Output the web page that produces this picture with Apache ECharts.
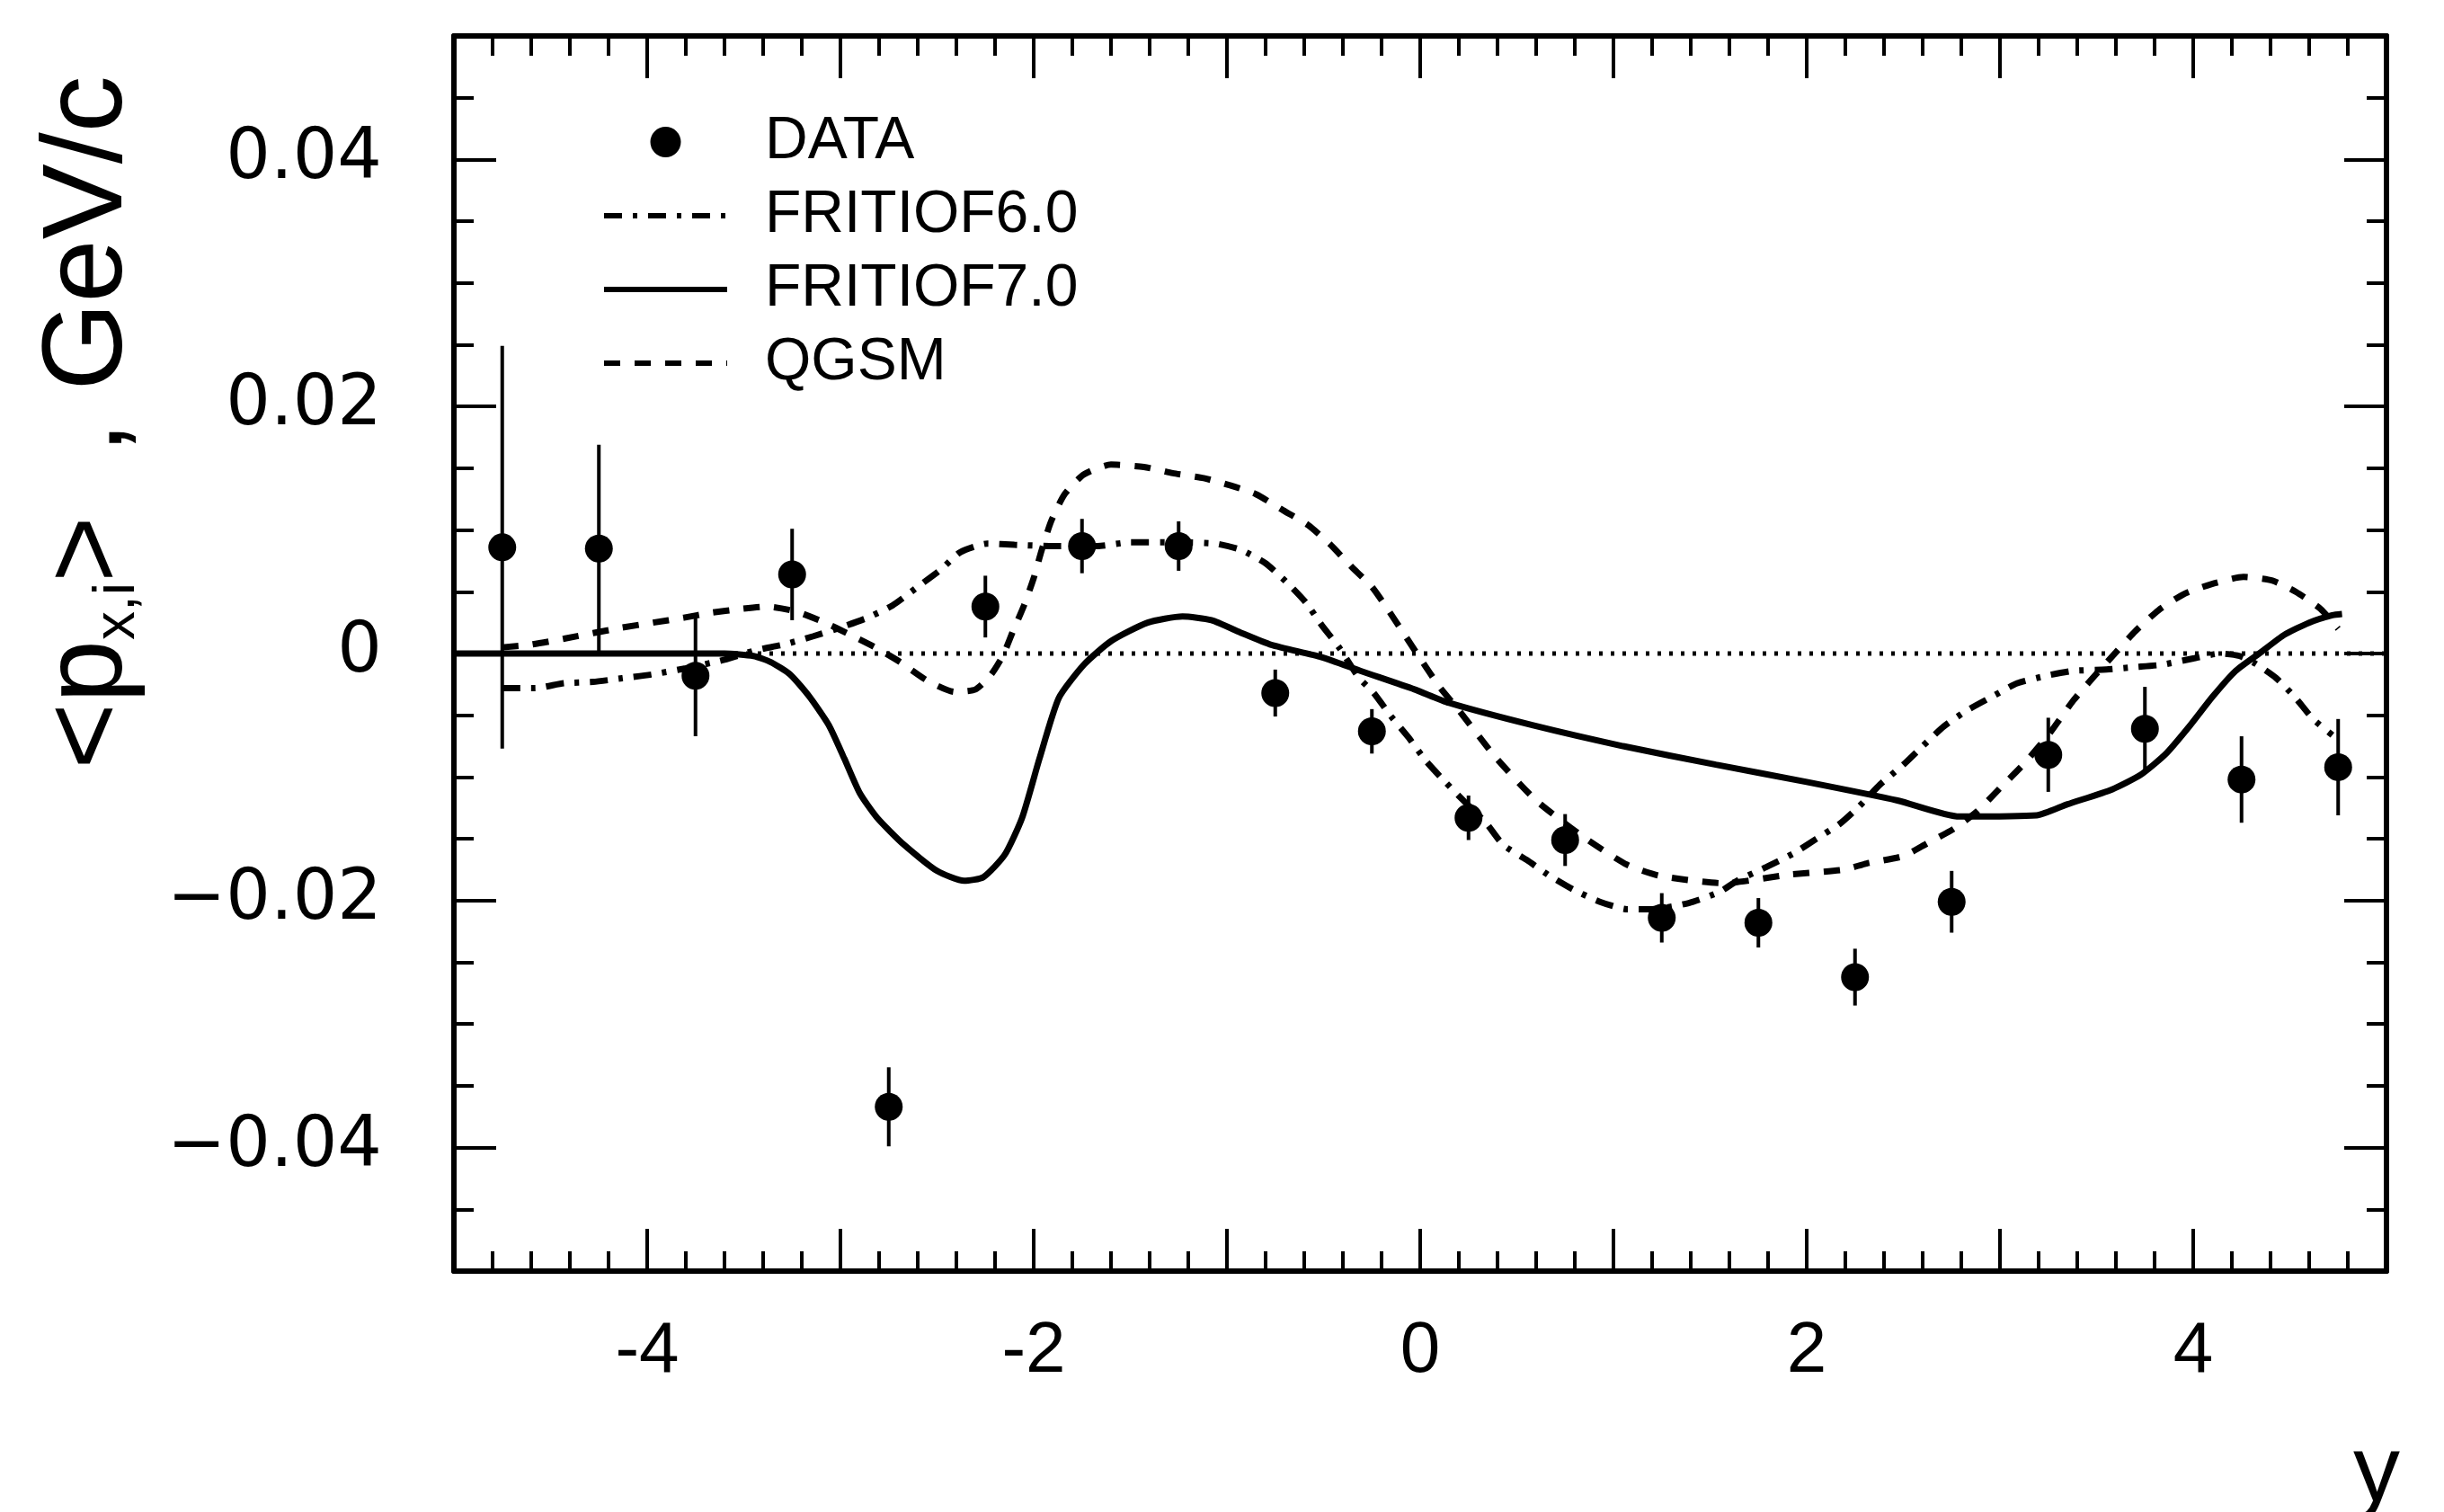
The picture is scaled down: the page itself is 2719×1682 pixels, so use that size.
<!DOCTYPE html>
<html>
<head>
<meta charset="utf-8">
<title>px,i vs y</title>
<script src="https://cdn.jsdelivr.net/npm/echarts@6.0.0/dist/echarts.min.js"></script>
<style>
  html, body { margin: 0; padding: 0; background: #fff; }
  #chart { width: 2719px; height: 1682px; }
</style>
</head>
<body>
<div id="chart"></div>
<script>
// measured points (rapidity y, <p_x,i> in GeV/c, error)
const dataX = [-4.75, -4.25, -3.75, -3.25, -2.75, -2.25, -1.75, -1.25, -0.75, -0.25,
  0.25, 0.75, 1.25, 1.75, 2.25, 2.75, 3.25, 3.75, 4.25, 4.75]
const dataY = [0.0086, 0.0085, -0.0018, 0.0064, -0.0367, 0.0038, 0.0087, 0.0087, -0.0032, -0.0063,
  -0.0133, -0.0151, -0.0214, -0.0218, -0.0262, -0.0201, -0.0082, -0.0061, -0.0102, -0.0092]
const dataErr = [0.0163, 0.0084, 0.0049, 0.0037, 0.0032, 0.0025, 0.0022, 0.002, 0.0019, 0.0018,
  0.0018, 0.0021, 0.002, 0.002, 0.0023, 0.0025, 0.003, 0.0034, 0.0035, 0.0039]

// model curves, [y, <p_x,i>]
const fritiof6 = [
  [-4.75, -0.0028], [-4.58, -0.0028], [-4.43, -0.0024], [-4.28, -0.0023], [-4.13, -0.002],
  [-3.98, -0.0017], [-3.8, -0.0012], [-3.6, -0.0005], [-3.43, 0.0003], [-3.3, 0.0007],
  [-3.14, 0.0014], [-3.0, 0.0021], [-2.86, 0.0029], [-2.73, 0.0039], [-2.6, 0.0054],
  [-2.48, 0.0068], [-2.38, 0.0082], [-2.24, 0.0089], [-2.1, 0.0088], [-1.9, 0.0087],
  [-1.67, 0.0087], [-1.5, 0.009], [-1.25, 0.009], [-1.06, 0.0089], [-0.93, 0.0084],
  [-0.8, 0.0073], [-0.68, 0.0056], [-0.59, 0.0041], [-0.51, 0.0023], [-0.42, 0.0005],
  [-0.32, -0.0019], [-0.24, -0.0032], [-0.15, -0.0051], [-0.06, -0.0068], [0.03, -0.0087],
  [0.13, -0.0104], [0.23, -0.012], [0.34, -0.0137], [0.43, -0.0155], [0.55, -0.0167],
  [0.67, -0.018], [0.79, -0.0191], [0.93, -0.0201], [1.07, -0.0207], [1.2, -0.0207],
  [1.39, -0.0202], [1.55, -0.0193], [1.64, -0.0184], [1.79, -0.0173], [1.93, -0.0162],
  [2.05, -0.015], [2.17, -0.0138], [2.27, -0.0124], [2.38, -0.0106], [2.5, -0.009],
  [2.6, -0.0075], [2.71, -0.0059], [2.83, -0.0046], [2.97, -0.0034], [3.09, -0.0024],
  [3.24, -0.0018], [3.38, -0.0014], [3.55, -0.0013], [3.7, -0.0011], [3.84, -0.0009],
  [4.0, -0.0004], [4.14, 0.0], [4.24, -0.0002], [4.32, -0.0008], [4.43, -0.002],
  [4.53, -0.0036], [4.62, -0.0053], [4.72, -0.0066]
]
const fritiof7 = [
  [-5, 0], [-4.5, 0], [-4, 0], [-3.6, 0], [-3.45, -0.0002], [-3.36, -0.0007], [-3.26, -0.0017],
  [-3.16, -0.0035], [-3.06, -0.0058], [-2.98, -0.0085], [-2.9, -0.0113], [-2.81, -0.0133],
  [-2.67, -0.0155], [-2.5, -0.0176], [-2.36, -0.0184], [-2.26, -0.0181], [-2.15, -0.0163],
  [-2.06, -0.0133], [-1.97, -0.0085], [-1.87, -0.0036], [-1.74, -0.0009], [-1.6, 0.001],
  [-1.41, 0.0025], [-1.23, 0.003], [-1.08, 0.0027], [-0.93, 0.0017], [-0.77, 0.0007],
  [-0.51, -0.0003], [-0.31, -0.0014], [-0.03, -0.0029], [0.15, -0.004], [0.58, -0.0058],
  [1.05, -0.0075], [1.53, -0.009], [2.0, -0.0104], [2.47, -0.0119], [2.79, -0.0132],
  [3.19, -0.0131], [3.35, -0.0122], [3.58, -0.011], [3.73, -0.0098], [3.86, -0.0081],
  [3.98, -0.0059], [4.1, -0.0035], [4.22, -0.0014], [4.35, 0.0001], [4.47, 0.0015],
  [4.6, 0.0025], [4.72, 0.0031], [4.77, 0.0032]
]
const qgsm = [
  [-4.75, 0.0005], [-4.61, 0.0007], [-4.43, 0.0012], [-4.13, 0.0021], [-3.97, 0.0025],
  [-3.81, 0.0029], [-3.67, 0.0033], [-3.52, 0.0036], [-3.38, 0.0038], [-3.23, 0.0034],
  [-3.08, 0.0025], [-2.96, 0.0016], [-2.82, 0.0005], [-2.69, -0.0007], [-2.55, -0.0022],
  [-2.41, -0.0031], [-2.3, -0.0029], [-2.22, -0.0017], [-2.16, -0.0002], [-2.11, 0.0017],
  [-2.05, 0.0039], [-2.0, 0.0061], [-1.96, 0.0083], [-1.91, 0.0107], [-1.84, 0.0129],
  [-1.74, 0.0145], [-1.6, 0.0153], [-1.43, 0.0151], [-1.28, 0.0146], [-1.12, 0.0142],
  [-0.98, 0.0136], [-0.85, 0.0129], [-0.71, 0.0116], [-0.58, 0.0104], [-0.47, 0.0089],
  [-0.36, 0.0071], [-0.25, 0.0054], [-0.16, 0.0034], [-0.08, 0.0015], [0.0, -0.0004],
  [0.1, -0.0027], [0.2, -0.0046], [0.39, -0.0084], [0.6, -0.0119], [0.84, -0.0148],
  [1.07, -0.0171], [1.24, -0.018], [1.57, -0.0186], [1.91, -0.0179], [2.19, -0.0175],
  [2.31, -0.017], [2.5, -0.0164], [2.62, -0.0154], [2.76, -0.0142], [2.88, -0.0128],
  [3.0, -0.0109], [3.12, -0.009], [3.25, -0.0066], [3.38, -0.0038], [3.49, -0.0018],
  [3.6, 0.0001], [3.7, 0.0018], [3.82, 0.0035], [3.95, 0.0048], [4.09, 0.0056],
  [4.26, 0.0062], [4.41, 0.0059], [4.53, 0.005], [4.66, 0.0036], [4.75, 0.002]
]
const zeroLine = [[-5, 0], [5, 0]]

// tick labels
const xLabels = [-4, -2, 0, 2, 4]
const yLabels = [-0.04, -0.02, 0, 0.02, 0.04]

const SANS = '"Liberation Sans", Arial, sans-serif'

const chart = echarts.init(document.getElementById('chart'))

const axisLine = { show: true, onZero: false, lineStyle: { color: '#000', width: 6 } }
const tickStyle = { color: '#000', width: 4 }

function xAxisCfg(position, showLabel) {
  return {
    type: 'value',
    position: position,
    min: -5,
    max: 5,
    interval: 1,
    axisLine: axisLine,
    axisTick: { inside: true, length: 47, lineStyle: tickStyle },
    minorTick: { show: true, splitNumber: 5, length: 22, lineStyle: tickStyle },
    splitLine: { show: false },
    axisLabel: {
      show: showLabel,
      margin: 50,
      color: '#000',
      fontSize: 80,
      fontFamily: SANS,
      formatter: v => (xLabels.indexOf(Math.round(v)) >= 0 ? String(Math.round(v)) : '')
    }
  }
}

function fmtY(v) {
  const r = Math.round(v * 1000) / 1000
  if (yLabels.indexOf(r) < 0) return ''
  if (r === 0) return '0'
  return (r < 0 ? '\u2212' : '') + Math.abs(r).toFixed(2)
}

function yAxisCfg(position, showLabel, longTicks) {
  const cfg = {
    type: 'value',
    position: position,
    min: -0.05,
    max: 0.05,
    interval: 0.005,
    axisLine: longTicks ? { show: false, onZero: false } : axisLine,
    axisTick: { inside: true, length: 22, lineStyle: tickStyle },
    splitLine: { show: false },
    axisLabel: {
      show: showLabel,
      margin: 80,
      color: '#000',
      fontSize: 78,
      fontFamily: '"DejaVu Sans", sans-serif',
      formatter: fmtY
    }
  }
  if (longTicks) {
    // longer ticks at the labelled values
    cfg.axisTick = { inside: true, length: 47, lineStyle: tickStyle, customValues: yLabels }
  }
  return cfg
}

// legend: hide the symbol drawn on the line icons, lift their text above the line
const lineLegend = (name, dash) => ({
  name: name,
  itemStyle: { opacity: 0 },
  lineStyle: { width: 6, color: '#000', type: dash },
  textStyle: { padding: [0, 0, 50, 37] }
})

chart.setOption({
  animation: false,
  backgroundColor: '#fff',
  grid: { left: 505, right: 64, top: 40, bottom: 268, containLabel: false },
  xAxis: [xAxisCfg('bottom', true), xAxisCfg('top', false)],
  yAxis: [
    yAxisCfg('left', true, false),
    yAxisCfg('left', false, true),
    yAxisCfg('right', false, false),
    yAxisCfg('right', false, true)
  ],
  legend: {
    data: [
      { name: 'DATA', textStyle: { padding: [25, 0, 25, 37] } },
      lineLegend('FRITIOF6.0', [20, 12, 5, 12]),
      lineLegend('FRITIOF7.0', 'solid'),
      lineLegend('QGSM', [18, 16])
    ],
    orient: 'vertical',
    left: 669,
    top: 96,
    padding: 0,
    itemWidth: 137,
    itemHeight: 34,
    itemGap: -42,
    selectedMode: false,
    lineStyle: { width: 6 },
    textStyle: {
      color: '#000',
      fontSize: 66,
      lineHeight: 74,
      fontFamily: SANS
    }
  },
  graphic: [
    {
      type: 'text',
      x: 100,
      y: 470,
      rotation: Math.PI / 2,
      style: {
        text: '{m|<p}{s|x,i}{m|>  , GeV/c}',
        align: 'center',
        verticalAlign: 'middle',
        fill: '#000',
        rich: {
          m: { fontSize: 126, fontFamily: SANS, fill: '#000' },
          s: { fontSize: 64, fontFamily: SANS, fill: '#000', verticalAlign: 'bottom', lineHeight: 126 }
        }
      }
    },
    {
      type: 'text',
      x: 2644,
      y: 1640,
      style: {
        text: 'y',
        align: 'center',
        verticalAlign: 'middle',
        fill: '#000',
        fontSize: 104,
        fontFamily: SANS
      }
    }
  ],
  series: [
    {
      // horizontal dotted line at zero
      name: 'zero',
      type: 'line',
      data: zeroLine,
      symbol: 'none',
      silent: true,
      lineStyle: { color: '#000', width: 5, type: [4, 9] }
    },
    {
      name: 'FRITIOF6.0',
      type: 'line',
      data: fritiof6,
      symbol: 'none',
      smooth: 0.2,
      lineStyle: { color: '#000', width: 7, type: [20, 12, 5, 12] },
      itemStyle: { color: '#000' }
    },
    {
      name: 'FRITIOF7.0',
      type: 'line',
      data: fritiof7,
      symbol: 'none',
      smooth: 0.2,
      lineStyle: { color: '#000', width: 7 },
      itemStyle: { color: '#000' }
    },
    {
      name: 'QGSM',
      type: 'line',
      data: qgsm,
      symbol: 'none',
      smooth: 0.2,
      lineStyle: { color: '#000', width: 7, type: [18, 16] },
      itemStyle: { color: '#000' }
    },
    {
      // error bars
      name: 'err',
      type: 'custom',
      silent: true,
      data: dataX.map((x, i) => [x, dataY[i], dataErr[i]]),
      renderItem: function (params, api) {
        const x = api.value(0)
        const y = api.value(1)
        const e = api.value(2)
        const top = api.coord([x, y + e])
        const bot = api.coord([x, y - e])
        return {
          type: 'line',
          shape: { x1: top[0], y1: top[1], x2: bot[0], y2: bot[1] },
          style: { stroke: '#000', lineWidth: 4 }
        }
      }
    },
    {
      name: 'DATA',
      type: 'scatter',
      data: dataX.map((x, i) => [x, dataY[i]]),
      symbol: 'circle',
      symbolSize: 31,
      itemStyle: { color: '#000', opacity: 1 },
      z: 5
    }
  ]
})
</script>
</body>
</html>
